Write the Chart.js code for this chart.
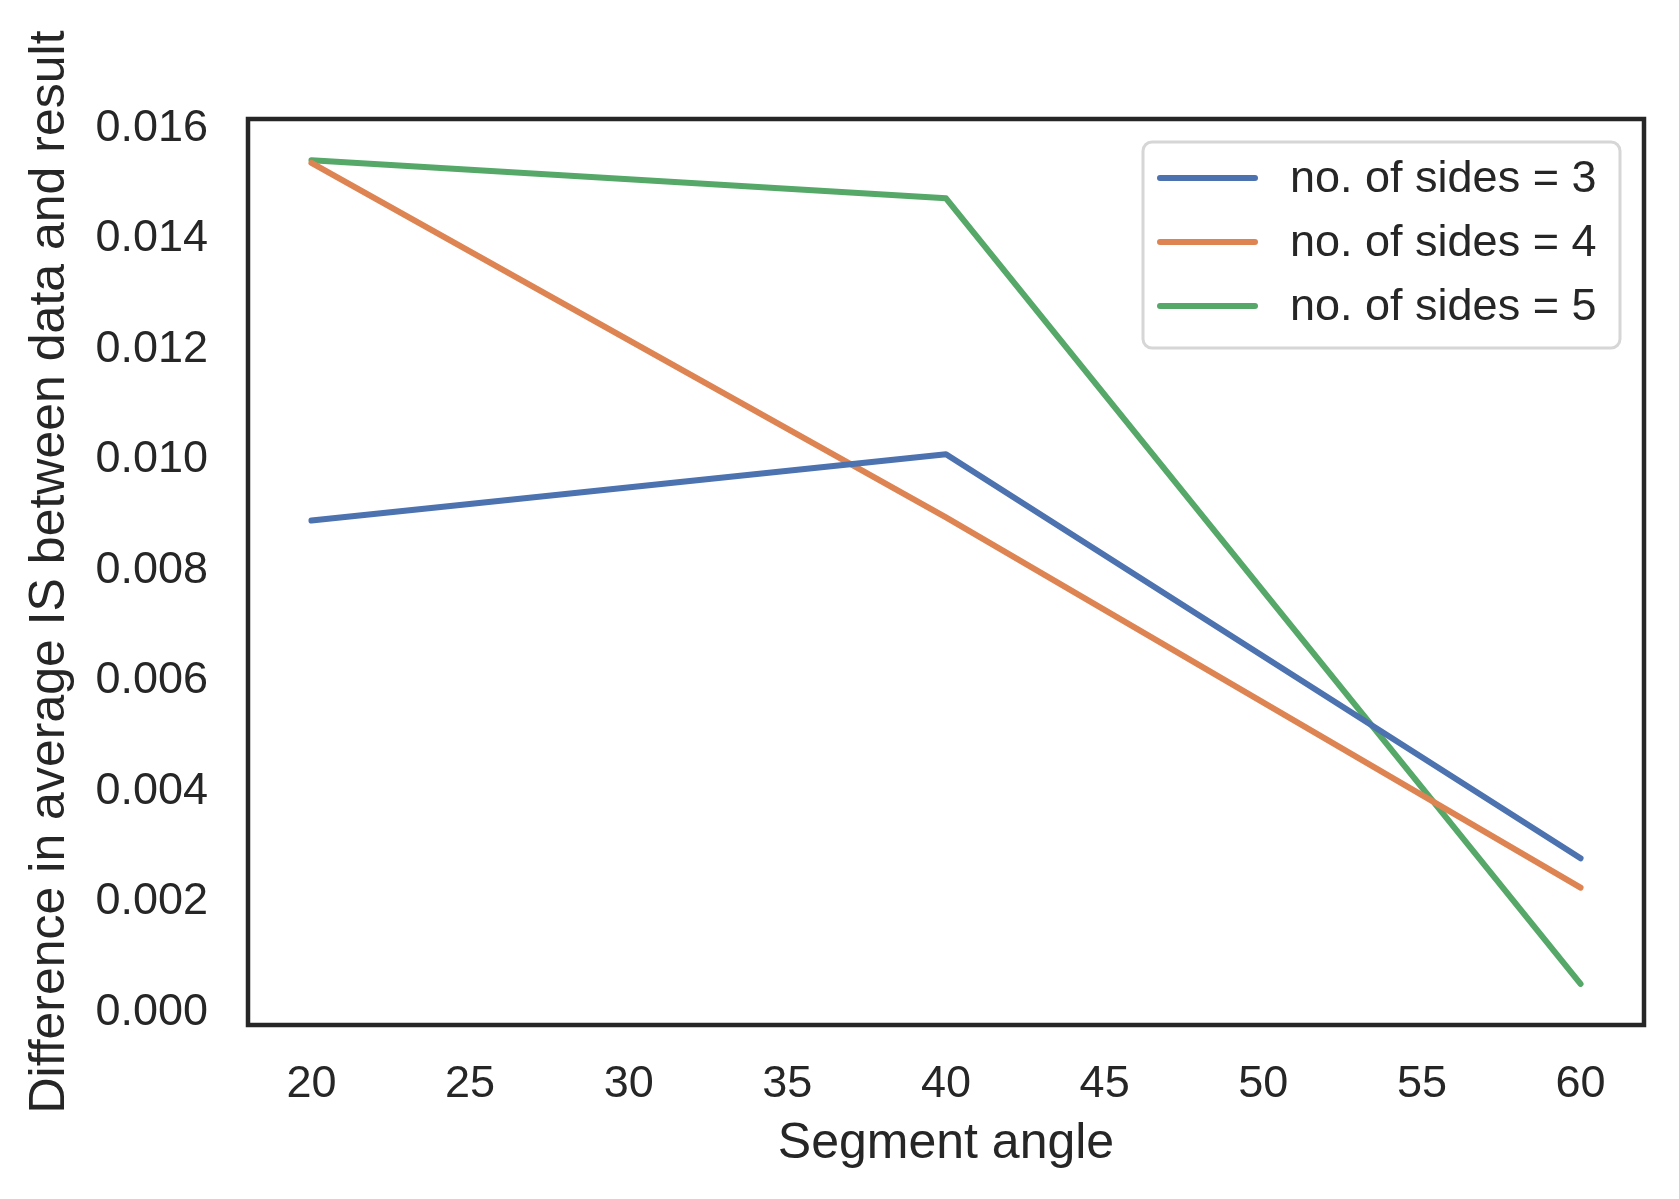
<!DOCTYPE html>
<html>
<head>
<meta charset="utf-8">
<title>Segment angle vs IS difference</title>
<script src="https://cdn.jsdelivr.net/npm/chart.js@4.4.1/dist/chart.umd.min.js"></script>
<style>
    html, body { margin: 0; padding: 0; background: #ffffff; }
    #wrap { width: 1679px; height: 1199px; position: relative; }
</style>
</head>
<body>
<div id="wrap"><canvas id="chartSudut"></canvas></div>
<script>
// Data
const segmentAngles = [20, 40, 60];
const sides3 = [0.0089, 0.0101, 0.00279];
const sides4 = [0.01537, 0.00896, 0.00226];
const sides5 = [0.01542, 0.01473, 0.00052];
const seriesLabels = ['no. of sides = 3', 'no. of sides = 4', 'no. of sides = 5'];
const xTicks = [20, 25, 30, 35, 40, 45, 50, 55, 60];
const yTicks = [0, 0.002, 0.004, 0.006, 0.008, 0.010, 0.012, 0.014, 0.016];
const yTickLabels = ['0.000', '0.002', '0.004', '0.006', '0.008', '0.010', '0.012', '0.014', '0.016'];

const textColor = '#262626';
const fontFamily = '"Liberation Sans", Arial, sans-serif';
const seriesColors = ['#4C72B0', '#DD8452', '#55A868'];

// Batas sumbu seperti autoscale matplotlib (margin 5%)
const allY = [...sides3, ...sides4, ...sides5];
const yLo = Math.min(...allY), yHi = Math.max(...allY);
const yPad = (yHi - yLo) * 0.05;
const xLo = Math.min(...segmentAngles), xHi = Math.max(...segmentAngles);
const xPad = (xHi - xLo) * 0.05;

const toPoints = arr => arr.map((v, i) => ({ x: segmentAngles[i], y: v }));

// Bingkai hitam di sekeliling area plot
const framePlugin = {
    id: 'frame',
    afterDatasetsDraw(chart) {
        const { ctx, chartArea: a } = chart;
        ctx.save();
        ctx.strokeStyle = textColor;
        ctx.lineWidth = 4.5;
        ctx.strokeRect(a.left, a.top, a.right - a.left, a.bottom - a.top);
        ctx.restore();
    }
};

// Legenda di dalam area plot (gaya matplotlib)
const legendPlugin = {
    id: 'innerLegend',
    afterDraw(chart) {
        const { ctx, chartArea: a } = chart;
        const boxR = a.right - 24, boxT = a.top + 23;
        const boxW = 477, boxH = 206;
        const boxL = boxR - boxW;
        ctx.save();
        ctx.fillStyle = 'rgba(255,255,255,0.8)';
        ctx.strokeStyle = '#d6d6d6';
        ctx.lineWidth = 3;
        ctx.beginPath();
        ctx.roundRect(boxL, boxT, boxW, boxH, 9);
        ctx.fill();
        ctx.stroke();

        ctx.font = '45px ' + fontFamily;
        ctx.textBaseline = 'middle';
        ctx.textAlign = 'left';
        chart.data.datasets.forEach((ds, i) => {
            const y = boxT + 36 + i * 64;
            ctx.strokeStyle = ds.borderColor;
            ctx.lineWidth = 6;
            ctx.lineCap = 'round';
            ctx.beginPath();
            ctx.moveTo(boxL + 17, y);
            ctx.lineTo(boxL + 112, y);
            ctx.stroke();
            ctx.fillStyle = textColor;
            ctx.fillText(ds.label, boxL + 147, y + 2);
        });
        ctx.restore();
    }
};

const seriesData = [sides3, sides4, sides5];

new Chart(document.getElementById('chartSudut'), {
    type: 'line',
    data: {
        datasets: seriesData.map((arr, i) => ({
            label: seriesLabels[i],
            data: toPoints(arr),
            borderColor: seriesColors[i],
            backgroundColor: seriesColors[i],
            borderWidth: 6,
            borderCapStyle: 'round',
            borderJoinStyle: 'round',
            pointRadius: 0,
            tension: 0,
            fill: false
        }))
    },
    options: {
        responsive: true,
        maintainAspectRatio: false,
        devicePixelRatio: 1,
        animation: false,
        layout: { padding: { top: 119, right: 35, left: 0, bottom: 0 } },
        plugins: {
            legend: { display: false },
            tooltip: { enabled: false }
        },
        scales: {
            x: {
                type: 'linear',
                min: xLo - xPad,
                max: xHi + xPad,
                grid: { display: false },
                border: { display: false },
                afterBuildTicks: s => { s.ticks = xTicks.map(v => ({ value: v })); },
                afterFit: s => { s.height = 174; },
                ticks: {
                    color: textColor,
                    padding: 25,
                    maxRotation: 0,
                    autoSkip: false,
                    font: { family: fontFamily, size: 45 },
                    callback: v => String(v)
                },
                title: {
                    display: true,
                    text: 'Segment angle',
                    color: textColor,
                    font: { family: fontFamily, size: 50 },
                    padding: { top: 0, bottom: 25 }
                }
            },
            y: {
                type: 'linear',
                min: yLo - yPad,
                max: yHi + yPad,
                grid: { display: false },
                border: { display: false },
                afterBuildTicks: s => { s.ticks = yTicks.map(v => ({ value: v })); },
                afterFit: s => { s.width = 248; },
                ticks: {
                    color: textColor,
                    padding: 32,
                    autoSkip: false,
                    font: { family: fontFamily, size: 45 },
                    callback: (v) => {
                        const idx = yTicks.findIndex(t => Math.abs(t - v) < 1e-9);
                        return idx >= 0 ? yTickLabels[idx] : '';
                    }
                },
                title: {
                    display: true,
                    text: 'Difference in average IS between data and result',
                    color: textColor,
                    font: { family: fontFamily, size: 50 },
                    padding: { top: 20, bottom: 0 }
                }
            }
        }
    },
    plugins: [framePlugin, legendPlugin]
});
</script>
</body>
</html>
